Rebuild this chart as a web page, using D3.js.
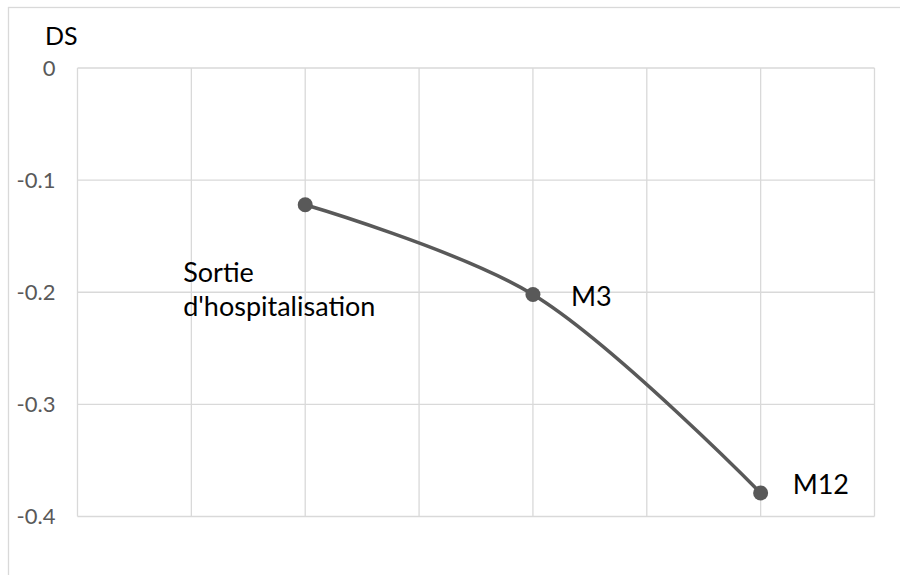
<!DOCTYPE html>
<html>
<head>
<meta charset="utf-8">
<script src="https://cdn.jsdelivr.net/npm/d3@7"></script>
<style>
  html, body { margin: 0; padding: 0; background: #fff; }
  svg { display: block; }
  text { font-family: Lato, "Open Sans", sans-serif; }
</style>
</head>
<body>
<div id="chart"></div>
<script>
// ---- data ----
const categories = ["Sortie d'hospitalisation", "M3", "M12"];
const xPositions = [2, 4, 6];
const dsValues = [-0.122, -0.202, -0.379];
const yTicks = [0, -0.1, -0.2, -0.3, -0.4];
const yTickLabels = ["0", "-0.1", "-0.2", "-0.3", "-0.4"];
const xGridTicks = [0, 1, 2, 3, 4, 5, 6, 7];
const yAxisTitle = "DS";

// ---- layout ----
const W = 900, H = 575;
const plot = { left: 77.5, right: 874.5, top: 68, bottom: 516.5 };

const svg = d3.select("#chart").append("svg")
  .attr("width", W).attr("height", H);

// outer chart border (extends past the window edges)
svg.append("rect")
  .attr("x", 8.5).attr("y", 7.5)
  .attr("width", 1000).attr("height", 1000)
  .attr("fill", "#fff").attr("stroke", "#d9d9d9").attr("stroke-width", 1.3);

const x = d3.scaleLinear().domain([0, 7]).range([plot.left, plot.right]);
const y = d3.scaleLinear().domain([-0.4, 0]).range([plot.bottom, plot.top]);

// gridlines
const grid = svg.append("g").attr("stroke", "#d9d9d9").attr("stroke-width", 1.3);
grid.selectAll(".h").data(yTicks).enter().append("line")
  .attr("x1", plot.left).attr("x2", plot.right)
  .attr("y1", d => y(d)).attr("y2", d => y(d));
grid.selectAll(".v").data(xGridTicks).enter().append("line")
  .attr("x1", d => x(d)).attr("x2", d => x(d))
  .attr("y1", plot.top).attr("y2", plot.bottom);

// y axis labels
const yAxis = d3.axisLeft(y).tickValues(yTicks)
  .tickFormat((d, i) => yTickLabels[i]).tickSize(0).tickPadding(22);
const ga = svg.append("g").attr("transform", `translate(${plot.left},0)`).call(yAxis);
ga.select(".domain").remove();
ga.selectAll("text")
  .attr("fill", "#595959")
  .style("font-size", "22px")
  .style("font-family", "Lato, 'Open Sans', sans-serif");

// axis title
svg.append("text")
  .attr("x", 45).attr("y", 45)
  .attr("fill", "#000")
  .style("font-size", "25px")
  .text(yAxisTitle);

// line
const pts = xPositions.map((xv, i) => [x(xv), y(dsValues[i])]);
svg.append("path")
  .datum(pts)
  .attr("d", d3.line().curve(d3.curveCatmullRom.alpha(0.5)))
  .attr("fill", "none")
  .attr("stroke", "#595959")
  .attr("stroke-width", 3.5)
  .attr("stroke-linecap", "round");

svg.selectAll(".pt").data(pts).enter().append("circle")
  .attr("cx", d => d[0]).attr("cy", d => d[1])
  .attr("r", 7.5).attr("fill", "#595959");

// data labels
const lab = svg.append("g").attr("fill", "#000").style("font-size", "27px");
const t0 = lab.append("text").attr("x", x(xPositions[0]) - 122).attr("y", 282);
const words = categories[0].split(" ");
t0.append("tspan").attr("x", x(xPositions[0]) - 122).attr("y", 282).text(words[0]);
t0.append("tspan").attr("x", x(xPositions[0]) - 122).attr("y", 316).text(words[1]);
lab.append("text").attr("x", x(xPositions[1]) + 38).attr("y", y(dsValues[1]) + 12).text(categories[1]);
lab.append("text").attr("x", x(xPositions[2]) + 32).attr("y", y(dsValues[2]) + 1).text(categories[2]);
</script>
</body>
</html>
